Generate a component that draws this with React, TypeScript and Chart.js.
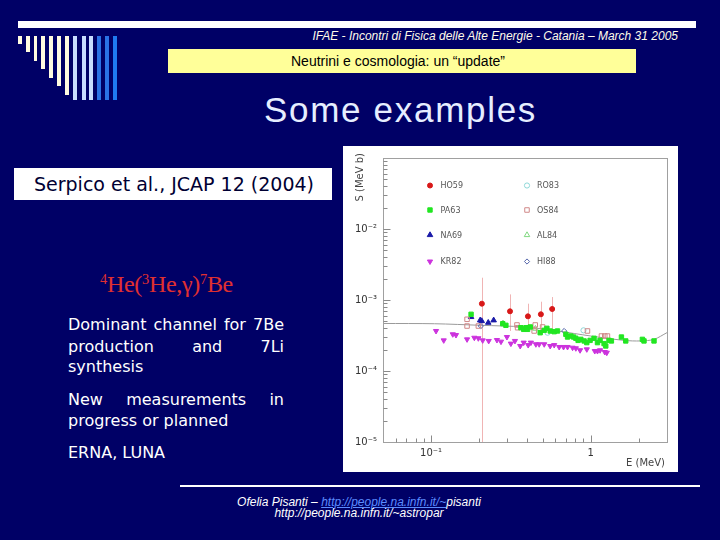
import React, { useEffect, useRef } from "react";
import { Chart, registerables } from "chart.js";
import { drawPoint } from "chart.js/helpers";

Chart.register(...registerables);

// ---------------- data (E in MeV, S in MeV b) ----------------
const HO59_E = [0.208, 0.312, 0.404, 0.487, 0.573];
const HO59_S = [8.87e-4, 6.93e-4, 5.89e-4, 6.29e-4, 7.47e-4];
const HO59_S_HI = [2.06e-3, 1.2e-3, 8.87e-4, 9.46e-4, 1.1e-3];
const HO59_S_LO = [1e-5, 3.66e-4, 3.66e-4, 3.66e-4, 3.66e-4];

const PA63_E = [0.178, 0.281, 0.294, 0.365, 0.38, 0.393, 0.402, 0.418, 0.482, 0.511, 0.531, 0.557, 0.59, 0.619, 0.698, 0.715, 0.75, 0.78, 0.806, 0.833, 0.866, 0.908, 0.944, 0.99, 1.048, 1.101, 1.143, 1.211, 1.241, 1.3, 1.346, 1.555, 1.655, 2.104, 2.153, 2.488];
const PA63_S = [6.29e-4, 4.64e-4, 4.4e-4, 4.07e-4, 3.86e-4, 4.07e-4, 3.86e-4, 4.17e-4, 3.46e-4, 3.74e-4, 3.99e-4, 3.66e-4, 3.58e-4, 3.66e-4, 3.29e-4, 3.01e-4, 3.11e-4, 3.01e-4, 2.89e-4, 2.7e-4, 2.79e-4, 2.65e-4, 2.51e-4, 2.7e-4, 2.89e-4, 2.51e-4, 2.7e-4, 2.43e-4, 2.25e-4, 2.7e-4, 2.65e-4, 3.01e-4, 2.65e-4, 2.79e-4, 2.65e-4, 2.65e-4];

const NA69_E = [0.178, 0.203, 0.2075, 0.228, 0.2465];
const NA69_S = [5.77e-4, 5.18e-4, 5.06e-4, 4.79e-4, 5.18e-4];

const KR82_E = [0.1074, 0.12, 0.1367, 0.1432, 0.168, 0.1866, 0.1977, 0.2104, 0.2295, 0.2585, 0.274, 0.2985, 0.316, 0.335, 0.3615, 0.38, 0.4055, 0.4217, 0.453, 0.475, 0.511, 0.557, 0.59, 0.634, 0.675, 0.715, 0.769, 0.806, 0.857, 0.944, 1.059, 1.101, 1.143, 1.223, 1.259];
const KR82_S = [3.66e-4, 2.7e-4, 3.29e-4, 3.21e-4, 2.79e-4, 2.94e-4, 2.89e-4, 2.7e-4, 2.65e-4, 2.73e-4, 2.59e-4, 3.01e-4, 2.43e-4, 2.65e-4, 2.25e-4, 2.51e-4, 2.32e-4, 2.51e-4, 2.38e-4, 2.38e-4, 2.38e-4, 2.25e-4, 2.32e-4, 2.18e-4, 2.18e-4, 2.18e-4, 2.13e-4, 2.09e-4, 1.96e-4, 2.02e-4, 1.91e-4, 1.91e-4, 1.96e-4, 1.85e-4, 1.81e-4];

const RO83_E = [0.536, 0.9];
const RO83_S = [3.46e-4, 3.74e-4];

const OS84_E = [0.168, 0.168, 0.1977, 0.345, 0.348, 0.449, 0.499, 0.442, 0.953, 1.166, 1.223, 1.271];
const OS84_S = [5.35e-4, 4.3e-4, 4.3e-4, 4.45e-4, 4.07e-4, 4.45e-4, 4.17e-4, 3.66e-4, 3.66e-4, 3.11e-4, 3.11e-4, 3.11e-4];

const AL84_E = [0.282, 0.45];
const AL84_S = [4.7e-4, 3.95e-4];

const HI88_E = [0.205, 0.681];
const HI88_S = [4.3e-4, 3.66e-4];

const THEORY_E = [0.05, 0.105, 0.205, 0.383, 0.619, 1.0, 1.615, 2.05, 2.488, 3.0];
const THEORY_S = [4.67e-4, 4.63e-4, 4.4e-4, 4.17e-4, 3.66e-4, 3.11e-4, 2.7e-4, 2.65e-4, 2.79e-4, 3.47e-4];

const X_TICK_VALUES = [0.1, 1];
const X_TICK_LABELS = ["10\u207B\u00B9", "1"];
const Y_TICK_VALUES = [1e-5, 1e-4, 1e-3, 1e-2];
const Y_TICK_LABELS = ["10\u207B\u2075", "10\u207B\u2074", "10\u207B\u00B3", "10\u207B\u00B2"];

const LEGEND_LEFT = ["HO59", "PA63", "NA69", "KR82"];
const LEGEND_RIGHT = ["RO83", "OS84", "AL84", "HI88"];

const BODY_P1 = ["Dominant channel for 7Be", "production and 7Li", "synthesis"];
const BODY_P2 = ["New measurements in", "progress or planned"];
const BODY_P3 = ["ERNA, LUNA"];

// ---------------- helpers ----------------
const pts = (xs: number[], ys: number[]) => xs.map((x, i) => ({ x, y: ys[i] }));

const labelFor = (v: number, vals: number[], labels: string[]) => {
  for (let i = 0; i < vals.length; i++) {
    if (Math.abs(Math.log10(v) - Math.log10(vals[i])) < 1e-6) return labels[i];
  }
  return "";
};

const FONT = '"DejaVu Sans", sans-serif';

const rootPlugin = {
  id: "rootStyle",
  beforeDatasetsDraw(chart: any) {
    const { ctx, chartArea } = chart;
    const xs = chart.scales.x;
    const ys = chart.scales.y;
    ctx.save();
    ctx.beginPath();
    ctx.rect(chartArea.left, chartArea.top, chartArea.right - chartArea.left, chartArea.bottom - chartArea.top);
    ctx.clip();
    chart.data.datasets.forEach((ds: any) => {
      if (!ds.errHi) return;
      ctx.strokeStyle = ds.errColor;
      ctx.lineWidth = 1;
      ds.data.forEach((p: any, i: number) => {
        const px = Math.round(xs.getPixelForValue(p.x)) + 0.5;
        ctx.beginPath();
        ctx.moveTo(px, ys.getPixelForValue(ds.errHi[i]));
        ctx.lineTo(px, ys.getPixelForValue(ds.errLo[i]));
        ctx.stroke();
      });
    });
    ctx.restore();
  },
  afterDraw(chart: any) {
    const { ctx, chartArea } = chart;
    const xs = chart.scales.x;
    const ys = chart.scales.y;
    const L = Math.round(chartArea.left) + 0.5;
    const R = Math.round(chartArea.right) + 0.5;
    const T = Math.round(chartArea.top) + 0.5;
    const B = Math.round(chartArea.bottom) + 0.5;
    ctx.save();
    // frame
    ctx.strokeStyle = "#a0a0a0";
    ctx.lineWidth = 1;
    ctx.strokeRect(L, T, R - L, B - T);
    // ticks (inside)
    ctx.strokeStyle = "#8a8a8a";
    const drawTicks = (scale: any, horizontal: boolean) => {
      const e0 = Math.floor(Math.log10(scale.min));
      const e1 = Math.ceil(Math.log10(scale.max));
      for (let e = e0; e <= e1; e++) {
        for (let m = 1; m <= 9; m++) {
          const v = m * Math.pow(10, e);
          if (v <= scale.min * 1.0001 || v >= scale.max * 0.9999) continue;
          const len = m === 1 ? 7 : 4;
          const p = Math.round(scale.getPixelForValue(v)) + 0.5;
          ctx.beginPath();
          if (horizontal) {
            ctx.moveTo(p, B);
            ctx.lineTo(p, B - len);
          } else {
            ctx.moveTo(L, p);
            ctx.lineTo(L + len, p);
          }
          ctx.stroke();
        }
      }
    };
    drawTicks(xs, true);
    drawTicks(ys, false);
    // axis titles
    ctx.fillStyle = "#444";
    ctx.font = `10px ${FONT}`;
    ctx.textBaseline = "middle";
    ctx.textAlign = "right";
    ctx.fillText("E (MeV)", 322, 317);
    ctx.save();
    ctx.translate(17, 7);
    ctx.rotate(-Math.PI / 2);
    ctx.textAlign = "right";
    ctx.fillText("S (MeV b)", 0, 0);
    ctx.restore();
    // legend
    const rowsY = [39.5, 64, 89, 115.5];
    const cols = [
      { mx: 87, tx: 97.5, labels: LEGEND_LEFT },
      { mx: 184, tx: 194, labels: LEGEND_RIGHT },
    ];
    ctx.font = `8px ${FONT}`;
    ctx.textAlign = "left";
    cols.forEach((c) => {
      c.labels.forEach((lab, r) => {
        const ds = chart.data.datasets.find((d: any) => d.label === lab);
        if (!ds) return;
        ctx.fillStyle = ds.pointBackgroundColor;
        ctx.strokeStyle = ds.pointBorderColor;
        ctx.lineWidth = ds.pointBorderWidth;
        drawPoint(ctx, { pointStyle: ds.pointStyle, rotation: ds.pointRotation || 0, radius: ds.pointRadius, borderWidth: ds.pointBorderWidth }, c.mx, rowsY[r]);
        ctx.fillStyle = "#555";
        ctx.fillText(lab, c.tx, rowsY[r] + 0.5);
      });
    });
    ctx.restore();
  },
};

function S4Chart() {
  const ref = useRef<HTMLCanvasElement | null>(null);
  useEffect(() => {
    if (!ref.current) return;
    const mk = (label: string, xs: number[], ys: number[], style: string, color: string, fill: string, radius: number, rotation = 0, extra: any = {}) => ({
      type: "scatter",
      label,
      data: pts(xs, ys),
      pointStyle: style,
      pointRadius: radius,
      pointHoverRadius: radius,
      pointRotation: rotation,
      pointBorderColor: color,
      pointBackgroundColor: fill,
      pointBorderWidth: 1,
      showLine: false,
      order: 1,
      ...extra,
    });
    const chart = new Chart(ref.current, {
      type: "scatter",
      data: {
        datasets: [
          {
            type: "line",
            label: "theory",
            data: pts(THEORY_E, THEORY_S),
            borderColor: "#9a9a9a",
            borderWidth: 1,
            pointRadius: 0,
            showLine: true,
            fill: false,
            tension: 0.3,
            order: 10,
          } as any,
          mk("KR82", KR82_E, KR82_S, "triangle", "#cc33dd", "#cc33dd", 3.0, 180),
          mk("PA63", PA63_E, PA63_S, "rect", "#22e622", "#22e622", 3.1),
          mk("OS84", OS84_E, OS84_S, "rect", "#d08888", "rgba(0,0,0,0)", 3.2),
          mk("RO83", RO83_E, RO83_S, "circle", "#8fd8d8", "rgba(0,0,0,0)", 2.6),
          mk("AL84", AL84_E, AL84_S, "triangle", "#80d880", "rgba(0,0,0,0)", 3.2),
          mk("HI88", HI88_E, HI88_S, "rectRot", "#5566aa", "rgba(0,0,0,0)", 2.6),
          mk("NA69", NA69_E, NA69_S, "triangle", "#1a1aa8", "#1a1aa8", 3.2),
          mk("HO59", HO59_E, HO59_S, "circle", "#d81818", "#d81818", 2.5, 0, { errHi: HO59_S_HI, errLo: HO59_S_LO, errColor: "#f0b4b4" }),
        ] as any,
      },
      options: {
        animation: false,
        responsive: true,
        maintainAspectRatio: false,
        events: [],
        layout: { padding: { top: 12, right: 11, left: 0, bottom: 0 } },
        plugins: { legend: { display: false }, tooltip: { enabled: false } },
        scales: {
          x: {
            type: "logarithmic",
            min: 0.05,
            max: 3,
            grid: { display: false, drawTicks: false },
            border: { display: false },
            afterFit: (s: any) => {
              s.height = 30;
            },
            ticks: {
              autoSkip: false,
              maxRotation: 0,
              padding: 5,
              color: "#333",
              font: { family: FONT, size: 10 },
              callback: (v: any) => labelFor(Number(v), X_TICK_VALUES, X_TICK_LABELS),
            },
          },
          y: {
            type: "logarithmic",
            min: 1e-5,
            max: 1e-1,
            grid: { display: false, drawTicks: false },
            border: { display: false },
            afterFit: (s: any) => {
              s.width = 40;
            },
            ticks: {
              autoSkip: false,
              padding: 6,
              color: "#333",
              font: { family: FONT, size: 10 },
              callback: (v: any) => labelFor(Number(v), Y_TICK_VALUES, Y_TICK_LABELS),
            },
          },
        },
      } as any,
      plugins: [rootPlugin],
    });
    return () => chart.destroy();
  }, []);
  return <canvas ref={ref} />;
}

const NAVY = "#000066";

const BARS = [
  { x: 18.3, w: 3.4, b: 44, c: "#fffbe0" },
  { x: 26, w: 3.6, b: 52.5, c: "#fffbe0" },
  { x: 33.5, w: 3.8, b: 61, c: "#fffbe0" },
  { x: 41.3, w: 4, b: 69.5, c: "#fffbe0" },
  { x: 49.3, w: 4, b: 78, c: "#fffbe0" },
  { x: 57.3, w: 4, b: 86.5, c: "#fffbe0" },
  { x: 65.3, w: 4, b: 95, c: "#fffbe0" },
  { x: 73.3, w: 4, b: 100, c: "#c8dcff" },
  { x: 81.6, w: 4, b: 100, c: "#c8dcff" },
  { x: 89.3, w: 4, b: 100, c: "#c8dcff" },
  { x: 97.3, w: 3.6, b: 100, c: "#2a72e6" },
  { x: 105, w: 3.6, b: 100, c: "#2a72e6" },
  { x: 112.7, w: 4, b: 100, c: "#1f7af0" },
];

const bodyLine = (text: string, top: number, justify: boolean, key: string) => (
  <div
    key={key}
    style={{
      position: "absolute",
      left: 68,
      top,
      width: 216,
      fontFamily: FONT,
      fontSize: 16,
      lineHeight: "20px",
      color: "#ffffff",
      whiteSpace: "nowrap",
      textAlign: justify ? "justify" : "left",
      textAlignLast: justify ? "justify" : "left",
    } as any}
  >
    {text}
  </div>
);

export default function App() {
  return (
    <div style={{ position: "fixed", left: 0, top: 0, width: 720, height: 540, background: NAVY, overflow: "hidden" }}>
      {/* top white bar */}
      <div style={{ position: "absolute", left: 18, top: 21, width: 678, height: 6.5, background: "#ffffff" }} />
      {BARS.map((b, i) => (
        <div key={i} style={{ position: "absolute", left: b.x, top: 35.7, width: b.w, height: b.b - 35.7, background: b.c }} />
      ))}
      {/* header */}
      <div
        style={{
          position: "absolute",
          right: 42,
          top: 29,
          fontFamily: '"Liberation Sans", Arial, sans-serif',
          fontStyle: "italic",
          fontSize: 12,
          lineHeight: "14px",
          color: "#fffbe8",
          whiteSpace: "nowrap",
        }}
      >
        IFAE - Incontri di Fisica delle Alte Energie - Catania – March 31 2005
      </div>
      <div
        style={{
          position: "absolute",
          left: 168,
          top: 49,
          width: 468,
          height: 23.5,
          background: "#ffff99",
          display: "flex",
          alignItems: "center",
          justifyContent: "center",
          fontFamily: '"Liberation Sans", Arial, sans-serif',
          fontSize: 14,
          color: "#000",
          paddingRight: 8,
          boxSizing: "border-box",
        }}
      >
        Neutrini e cosmologia: un “update”
      </div>
      {/* title */}
      <div
        style={{
          position: "absolute",
          left: 200,
          top: 90.2,
          width: 401,
          textAlign: "center",
          fontFamily: '"Liberation Sans", Arial, sans-serif',
          fontSize: 35,
          lineHeight: "40px",
          letterSpacing: 1.7,
          color: "#e6eeff",
          whiteSpace: "nowrap",
        }}
      >
        Some examples
      </div>
      {/* citation box */}
      <div
        style={{
          position: "absolute",
          left: 14,
          top: 168,
          width: 318,
          height: 31.5,
          background: "#ffffff",
        }}
      >
        <div
          style={{
            position: "absolute",
            left: 0,
            top: 4,
            width: 318,
            textAlign: "center",
            fontFamily: FONT,
            fontSize: 19,
            lineHeight: "24px",
            color: "#000033",
            whiteSpace: "nowrap",
            paddingLeft: 2,
            boxSizing: "border-box",
          }}
        >
          Serpico et al., JCAP 12 (2004)
        </div>
      </div>
      {/* reaction */}
      <div
        style={{
          position: "absolute",
          left: 100,
          top: 269.6,
          fontFamily: '"Liberation Serif", "Times New Roman", serif',
          fontSize: 24,
          lineHeight: "28px",
          color: "#e03030",
          whiteSpace: "nowrap",
          letterSpacing: -0.3,
        }}
      >
        <sup style={{ fontSize: "60%", lineHeight: 0, verticalAlign: "0.55em" }}>4</sup>He(
        <sup style={{ fontSize: "60%", lineHeight: 0, verticalAlign: "0.55em" }}>3</sup>He,γ)
        <sup style={{ fontSize: "60%", lineHeight: 0, verticalAlign: "0.55em" }}>7</sup>Be
      </div>
      {/* body */}
      {BODY_P1.map((t, i) => bodyLine(t, [314.5, 336.5, 356.5][i], i < BODY_P1.length - 1, "p1" + i))}
      {BODY_P2.map((t, i) => bodyLine(t, [390, 410.5][i], i < BODY_P2.length - 1, "p2" + i))}
      {BODY_P3.map((t, i) => bodyLine(t, 442.5, false, "p3" + i))}
      {/* chart image */}
      <div style={{ position: "absolute", left: 343, top: 146, width: 335, height: 326, background: "#ffffff" }}>
        <div style={{ position: "relative", width: 335, height: 326 }}>
          <S4Chart />
        </div>
      </div>
      {/* bottom line */}
      <div style={{ position: "absolute", left: 180, top: 485, width: 520, height: 2, background: "#ffffff" }} />
      {/* footer */}
      <div
        style={{
          position: "absolute",
          left: 0,
          top: 494.8,
          width: 718,
          textAlign: "center",
          fontFamily: '"Liberation Sans", Arial, sans-serif',
          fontStyle: "italic",
          fontSize: 12,
          lineHeight: "14px",
          color: "#ffffff",
          whiteSpace: "nowrap",
        }}
      >
        Ofelia Pisanti – <span style={{ color: "#5b8cff", textDecoration: "underline" }}>http://people.na.infn.it/~</span>pisanti
      </div>
      <div
        style={{
          position: "absolute",
          left: 0,
          top: 505.8,
          width: 718,
          textAlign: "center",
          fontFamily: '"Liberation Sans", Arial, sans-serif',
          fontStyle: "italic",
          fontSize: 12,
          lineHeight: "14px",
          color: "#ffffff",
          whiteSpace: "nowrap",
        }}
      >
        http://people.na.infn.it/~astropar
      </div>
    </div>
  );
}
